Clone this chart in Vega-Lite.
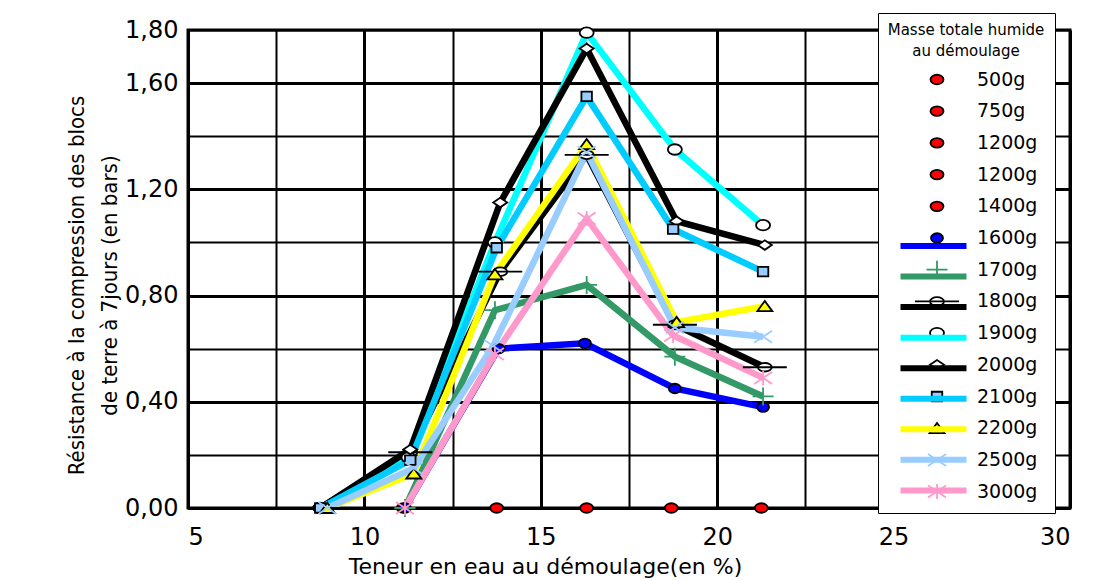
{
  "$schema": "https://vega.github.io/schema/vega-lite/v6.json",
  "width": 882,
  "height": 478,
  "autosize": {"type": "none"},
  "padding": {"left": 188, "top": 30, "right": 46, "bottom": 72},
  "background": "white",
  "config": {
    "font": "DejaVu Sans",
    "view": {"stroke": "black", "strokeWidth": 3},
    "axis": {
      "labelColor": "black", "titleColor": "black", "domainColor": "black", "domainWidth": 3,
      "gridColor": "black", "gridOpacity": 1, "ticks": false,
      "labelFont": "DejaVu Sans", "labelFontSize": 24, "titleFontWeight": "normal"
    },
    "legend": {"labelColor": "black", "titleColor": "black", "titleFontWeight": "normal", "gridAlign": "all"}
  },
  "data": {
    "values": [
      {"masse": "500g", "teneur": 11.1, "resistance": 0},
      {"masse": "750g", "teneur": 13.75, "resistance": 0},
      {"masse": "1200g", "teneur": 16.3, "resistance": 0},
      {"masse": "1200g (2)", "teneur": 18.7, "resistance": 0},
      {"masse": "1400g", "teneur": 21.25, "resistance": 0},
      {"masse": "1600g", "teneur": 11.15, "resistance": 0},
      {"masse": "1600g", "teneur": 13.8, "resistance": 0.6},
      {"masse": "1600g", "teneur": 16.25, "resistance": 0.62},
      {"masse": "1600g", "teneur": 18.8, "resistance": 0.45},
      {"masse": "1600g", "teneur": 21.3, "resistance": 0.38},
      {"masse": "1700g", "teneur": 11.15, "resistance": 0},
      {"masse": "1700g", "teneur": 13.7, "resistance": 0.745},
      {"masse": "1700g", "teneur": 16.3, "resistance": 0.84},
      {"masse": "1700g", "teneur": 18.8, "resistance": 0.57},
      {"masse": "1700g", "teneur": 21.3, "resistance": 0.42},
      {"masse": "1800g", "teneur": 8.75, "resistance": 0},
      {"masse": "1800g", "teneur": 11.3, "resistance": 0.21},
      {"masse": "1800g", "teneur": 13.85, "resistance": 0.89},
      {"masse": "1800g", "teneur": 16.3, "resistance": 1.33},
      {"masse": "1800g", "teneur": 18.8, "resistance": 0.69},
      {"masse": "1800g", "teneur": 21.35, "resistance": 0.53},
      {"masse": "1900g", "teneur": 8.75, "resistance": 0},
      {"masse": "1900g", "teneur": 11.25, "resistance": 0.19},
      {"masse": "1900g", "teneur": 13.7, "resistance": 1.0},
      {"masse": "1900g", "teneur": 16.3, "resistance": 1.79},
      {"masse": "1900g", "teneur": 18.8, "resistance": 1.35},
      {"masse": "1900g", "teneur": 21.3, "resistance": 1.065},
      {"masse": "2000g", "teneur": 8.75, "resistance": 0},
      {"masse": "2000g", "teneur": 11.3, "resistance": 0.22},
      {"masse": "2000g", "teneur": 13.85, "resistance": 1.15},
      {"masse": "2000g", "teneur": 16.3, "resistance": 1.73},
      {"masse": "2000g", "teneur": 18.85, "resistance": 1.08},
      {"masse": "2000g", "teneur": 21.35, "resistance": 0.99},
      {"masse": "2100g", "teneur": 8.75, "resistance": 0},
      {"masse": "2100g", "teneur": 11.3, "resistance": 0.18},
      {"masse": "2100g", "teneur": 13.75, "resistance": 0.98},
      {"masse": "2100g", "teneur": 16.3, "resistance": 1.55},
      {"masse": "2100g", "teneur": 18.75, "resistance": 1.05},
      {"masse": "2100g", "teneur": 21.3, "resistance": 0.89},
      {"masse": "2200g", "teneur": 8.95, "resistance": 0},
      {"masse": "2200g", "teneur": 11.4, "resistance": 0.13},
      {"masse": "2200g", "teneur": 13.7, "resistance": 0.88},
      {"masse": "2200g", "teneur": 16.3, "resistance": 1.37},
      {"masse": "2200g", "teneur": 18.85, "resistance": 0.7},
      {"masse": "2200g", "teneur": 21.35, "resistance": 0.76},
      {"masse": "2500g", "teneur": 8.95, "resistance": 0},
      {"masse": "2500g", "teneur": 11.4, "resistance": 0.15},
      {"masse": "2500g", "teneur": 13.65, "resistance": 0.61},
      {"masse": "2500g", "teneur": 16.3, "resistance": 1.34},
      {"masse": "2500g", "teneur": 18.8, "resistance": 0.68},
      {"masse": "2500g", "teneur": 21.3, "resistance": 0.645},
      {"masse": "3000g", "teneur": 11.15, "resistance": 0},
      {"masse": "3000g", "teneur": 13.7, "resistance": 0.58},
      {"masse": "3000g", "teneur": 16.3, "resistance": 1.09},
      {"masse": "3000g", "teneur": 18.75, "resistance": 0.65},
      {"masse": "3000g", "teneur": 21.3, "resistance": 0.49}
    ]
  },
  "encoding": {
    "x": {
      "field": "teneur", "type": "quantitative",
      "scale": {"domain": [5, 30], "nice": false},
      "axis": {
        "values": [5, 7.5, 10, 12.5, 15, 17.5, 20, 22.5, 25, 27.5, 30],
        "labelExpr": "datum.value % 5 === 0 ? datum.label : ''",
        "gridWidth": {"condition": {"test": "datum.value % 5 === 0", "value": 3}, "value": 2},
        "labelPadding": 17,
        "title": "Teneur en eau au démoulage(en %)",
        "titleFont": "DejaVu Sans", "titleFontSize": 22,
        "titleX": 357, "titleY": 65, "titleAlign": "center", "titleBaseline": "alphabetic"
      }
    },
    "y": {
      "field": "resistance", "type": "quantitative",
      "scale": {"domain": [0, 1.8], "nice": false},
      "axis": {
        "values": [0, 0.2, 0.4, 0.6, 0.8, 1, 1.2, 1.4, 1.6, 1.8],
        "labelExpr": "(round(datum.value * 5) % 2 === 0 || datum.value > 1.75) ? replace(format(datum.value, '.2f'), '.', ',') : ''",
        "gridWidth": {"condition": {"test": "round(datum.value * 5) % 2 === 0", "value": 3}, "value": 2},
        "labelPadding": 10,
        "title": ["Résistance à la compression des blocs", "de terre à 7jours (en bars)"],
        "titleFont": "Liberation Sans Narrow, DejaVu Sans Condensed, Liberation Sans",
        "titleFontSize": 22, "titleLineHeight": 33,
        "titleX": -100, "titleY": 255, "titleAlign": "center", "titleBaseline": "bottom", "titleAngle": -90
      }
    }
  },
  "layer": [
    {
      "transform": [{"filter": {"field": "masse", "oneOf": ["500g", "750g", "1200g", "1200g (2)", "1400g"]}}],
      "mark": {"type": "point", "filled": true, "size": 100, "strokeWidth": 1.8, "opacity": 1},
      "encoding": {
        "shape": {
          "field": "masse", "type": "nominal",
          "scale": {
            "domain": ["500g", "750g", "1200g", "1200g (2)", "1400g", "1600g", "1700g", "1800g", "1900g", "2000g", "2100g", "2200g", "2500g", "3000g"],
            "range": [
              "M-1.3,0A1.3,0.95 0 1,0 1.3,0A1.3,0.95 0 1,0 -1.3,0Z",
              "M-1.3,0A1.3,0.95 0 1,0 1.3,0A1.3,0.95 0 1,0 -1.3,0Z",
              "M-1.3,0A1.3,0.95 0 1,0 1.3,0A1.3,0.95 0 1,0 -1.3,0Z",
              "M-1.3,0A1.3,0.95 0 1,0 1.3,0A1.3,0.95 0 1,0 -1.3,0Z",
              "M-1.3,0A1.3,0.95 0 1,0 1.3,0A1.3,0.95 0 1,0 -1.3,0Z",
              "M-1.2,0A1.2,0.95 0 1,0 1.2,0A1.2,0.95 0 1,0 -1.2,0Z",
              "M-2.1,0H2.1M0,-1.8V1.8",
              "M-4.4,0H4.4M-1.4,0A1.4,0.85 0 1,0 1.4,0A1.4,0.85 0 1,0 -1.4,0Z",
              "M-1.4,0A1.4,1.05 0 1,0 1.4,0A1.4,1.05 0 1,0 -1.4,0Z",
              "M-1.4,0L0,-0.95L1.4,0L0,0.95Z",
              "M-1.05,-0.95H1.05V0.95H-1.05Z",
              "M-1.5,1L0,-1.05L1.5,1Z",
              "M-1.8,-1.2L1.8,1.2M-1.8,1.2L1.8,-1.2",
              "M-1.8,-1.2L1.8,1.2M-1.8,1.2L1.8,-1.2M0,-1.5V1.5"
            ]
          },
          "legend": {
            "orient": "none", "legendX": 690, "legendY": -17, "padding": 10,
            "strokeColor": "black", "fillColor": "white",
            "title": ["Masse totale humide", "au démoulage"], "titleFont": "DejaVu Sans", "titleFontSize": 15, "titleLineHeight": 21, "titleLimit": 400,
            "titleAnchor": "middle", "titleAlign": "center", "titlePadding": 11,
            "labelFont": "DejaVu Sans", "labelFontSize": 19, "labelExpr": "replace(datum.label, ' (2)', '')",
            "symbolSize": 100, "symbolStrokeWidth": 1.8, "symbolOffset": 32.5, "labelOffset": 30.5, "rowPadding": 4.7
          }
        },
        "fill": {
          "field": "masse", "type": "nominal",
          "scale": {
            "domain": ["500g", "750g", "1200g", "1200g (2)", "1400g", "1600g", "1700g", "1800g", "1900g", "2000g", "2100g", "2200g", "2500g", "3000g"],
            "range": ["#FF0000", "#FF0000", "#FF0000", "#FF0000", "#FF0000", "#0000FF", "transparent", "white", "white", "white", "#99CCFF", "#FFFF00", "transparent", "transparent"]
          },
          "legend": {
            "orient": "none", "legendX": 690, "legendY": -17, "padding": 10,
            "strokeColor": "black", "fillColor": "white",
            "title": ["Masse totale humide", "au démoulage"], "titleFont": "DejaVu Sans", "titleFontSize": 15, "titleLineHeight": 21, "titleLimit": 400,
            "titleAnchor": "middle", "titleAlign": "center", "titlePadding": 11,
            "labelFont": "DejaVu Sans", "labelFontSize": 19, "labelExpr": "replace(datum.label, ' (2)', '')",
            "symbolSize": 100, "symbolStrokeWidth": 1.8, "symbolOffset": 32.5, "labelOffset": 30.5, "rowPadding": 4.7
          }
        },
        "stroke": {
          "field": "masse", "type": "nominal",
          "scale": {
            "domain": ["500g", "750g", "1200g", "1200g (2)", "1400g", "1600g", "1700g", "1800g", "1900g", "2000g", "2100g", "2200g", "2500g", "3000g"],
            "range": ["black", "black", "black", "black", "black", "black", "#339966", "black", "black", "black", "black", "black", "#99CCFF", "#FF99CC"]
          },
          "legend": {
            "orient": "none", "legendX": 690, "legendY": -17, "padding": 10,
            "strokeColor": "black", "fillColor": "white",
            "title": ["Masse totale humide", "au démoulage"], "titleFont": "DejaVu Sans", "titleFontSize": 15, "titleLineHeight": 21, "titleLimit": 400,
            "titleAnchor": "middle", "titleAlign": "center", "titlePadding": 11,
            "labelFont": "DejaVu Sans", "labelFontSize": 19, "labelExpr": "replace(datum.label, ' (2)', '')",
            "symbolSize": 100, "symbolStrokeWidth": 1.8, "symbolOffset": 32.5, "labelOffset": 30.5, "rowPadding": 4.7
          }
        }
      }
    },
    {
      "transform": [{"filter": {"field": "masse", "oneOf": ["1600g", "1700g", "1800g", "1900g", "2000g", "2100g", "2200g", "2500g", "3000g"]}}],
      "mark": {"type": "line", "strokeWidth": 6.5},
      "encoding": {
        "color": {
          "field": "masse", "type": "nominal",
          "scale": {"range": ["#0000FF", "#339966", "#000000", "#00FFFF", "#000000", "#00CCFF", "#FFFF00", "#99CCFF", "#FF99CC"]},
          "legend": {
            "orient": "none", "legendX": 700, "legendY": 200, "padding": 0,
            "title": null, "labelFont": "DejaVu Sans", "labelFontSize": 19, "labelExpr": "''",
            "symbolType": "M-6.6,1.3H6.6", "symbolSize": 100, "symbolStrokeWidth": 6,
            "symbolOffset": 36, "labelOffset": 12, "rowPadding": 2.55
          }
        }
      }
    },
    {
      "transform": [{"filter": {"field": "masse", "oneOf": ["1600g", "1700g", "1800g", "1900g", "2000g", "2100g", "2200g", "2500g", "3000g"]}}],
      "mark": {"type": "point", "filled": true, "size": 100, "strokeWidth": 1.8, "opacity": 1},
      "encoding": {
        "shape": {"field": "masse", "type": "nominal", "legend": null},
        "fill": {"field": "masse", "type": "nominal", "legend": null},
        "stroke": {"field": "masse", "type": "nominal", "legend": null}
      }
    }
  ]
}
